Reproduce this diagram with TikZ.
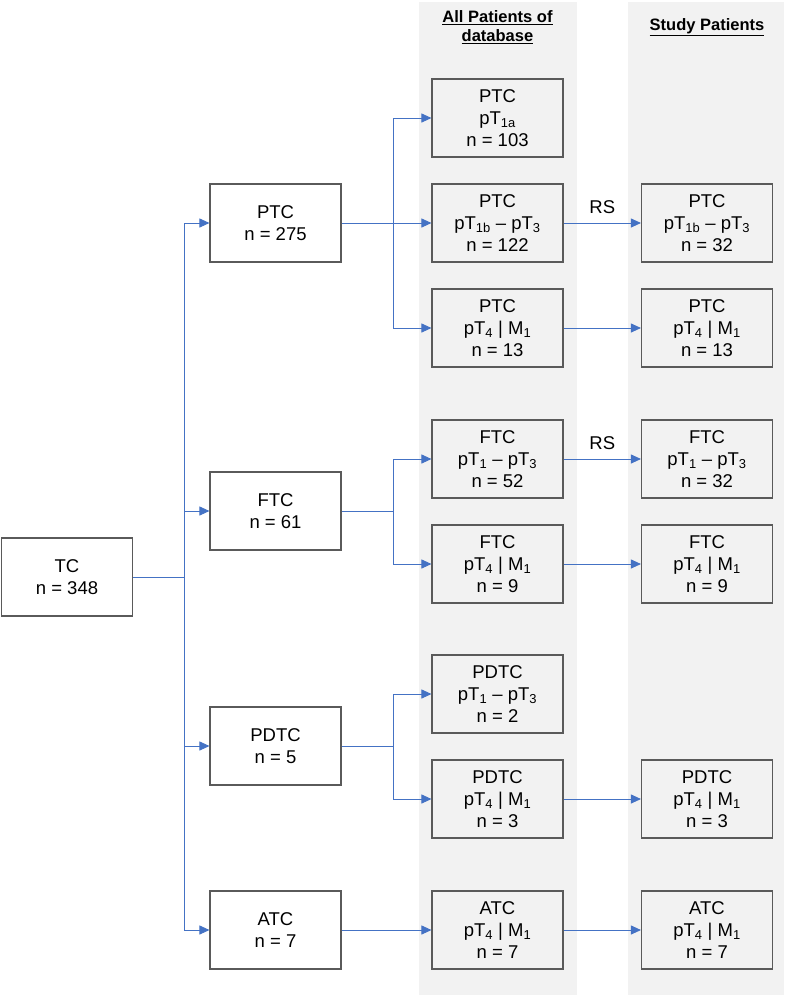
\documentclass[tikz,border=0pt]{standalone}
\usepackage{fontspec}
\setmainfont{Liberation Sans}
\usetikzlibrary{arrows.meta}
\definecolor{flowblue}{HTML}{4472C4}
\definecolor{colgray}{HTML}{F2F2F2}
\definecolor{boxline}{HTML}{5A5A5A}
\newcommand{\tsub}[1]{\textsubscript{#1}}
\tikzset{
  group/.style={draw=boxline,line width=1.1pt,minimum width=131pt,minimum height=78pt,
    align=center,inner sep=0pt,font=\fontsize{18.5}{22}\selectfont},
  tumor/.style={group,fill=white},
  link/.style={flowblue,line width=0.9pt},
  feed/.style={link,-{Triangle[length=10pt,width=9pt]}},
  select/.style={above=5.5pt,text=black,font=\fontsize{18.5}{22}\selectfont},
  head/.style={font=\fontsize{16.5}{19}\selectfont\bfseries,align=center}
}
\begin{document}
\begin{tikzpicture}[x=1pt,y=-1pt]
  \useasboundingbox (0,0) rectangle (787,997);
  \fill[colgray] (419,2) rectangle (577,995);
  \fill[colgray] (628,2) rectangle (784,995);
  \node[head] (allhd) at (497.5,27) {\underline{All Patients of}\\\underline{database}};
  \node[head] (studyhd) at (707,27) {\underline{Study Patients}};
  % histology
  \node[tumor] (tc) at (67,577) {TC\\n = 348};
  \node[tumor] (ptc) at (275.5,223) {PTC\\n = 275};
  \node[tumor] (ftc) at (275.5,511) {FTC\\n = 61};
  \node[tumor] (pdtc) at (275.5,746) {PDTC\\n = 5};
  \node[tumor] (atc) at (275.5,930) {ATC\\n = 7};
  % all patients of database
  \node[group] (ptcA) at (497.5,118) {PTC\\pT\tsub{1a}\\n = 103};
  \node[group] (ptcB) at (497.5,223) {PTC\\pT\tsub{1b} -- pT\tsub{3}\\n = 122};
  \node[group] (ptcC) at (497.5,328) {PTC\\pT\tsub{4} | M\tsub{1}\\n = 13};
  \node[group] (ftcA) at (497.5,459) {FTC\\pT\tsub{1} -- pT\tsub{3}\\n = 52};
  \node[group] (ftcB) at (497.5,564) {FTC\\pT\tsub{4} | M\tsub{1}\\n = 9};
  \node[group] (pdtcA) at (497.5,694) {PDTC\\pT\tsub{1} -- pT\tsub{3}\\n = 2};
  \node[group] (pdtcB) at (497.5,799) {PDTC\\pT\tsub{4} | M\tsub{1}\\n = 3};
  \node[group] (atcA) at (497.5,930) {ATC\\pT\tsub{4} | M\tsub{1}\\n = 7};
  % study patients
  \node[group] (ptcBs) at (707,223) {PTC\\pT\tsub{1b} -- pT\tsub{3}\\n = 32};
  \node[group] (ptcCs) at (707,328) {PTC\\pT\tsub{4} | M\tsub{1}\\n = 13};
  \node[group] (ftcAs) at (707,459) {FTC\\pT\tsub{1} -- pT\tsub{3}\\n = 32};
  \node[group] (ftcBs) at (707,564) {FTC\\pT\tsub{4} | M\tsub{1}\\n = 9};
  \node[group] (pdtcBs) at (707,799) {PDTC\\pT\tsub{4} | M\tsub{1}\\n = 3};
  \node[group] (atcAs) at (707,930) {ATC\\pT\tsub{4} | M\tsub{1}\\n = 7};
  % junctions
  \coordinate (jtc) at (184,577);
  \coordinate (jptc) at (393.5,223);
  \coordinate (jftc) at (393.5,511);
  \coordinate (jpdtc) at (393.5,746);
  \draw[link] (tc) -- (jtc);
  \foreach \kind in {ptc,ftc,pdtc,atc}
    \draw[feed] (jtc) |- (\kind);
  \draw[link] (ptc) -- (jptc);
  \foreach \kind in {ptcA,ptcB,ptcC}
    \draw[feed] (jptc) |- (\kind);
  \draw[link] (ftc) -- (jftc);
  \foreach \kind in {ftcA,ftcB}
    \draw[feed] (jftc) |- (\kind);
  \draw[link] (pdtc) -- (jpdtc);
  \foreach \kind in {pdtcA,pdtcB}
    \draw[feed] (jpdtc) |- (\kind);
  \draw[feed] (atc) -- (atcA);
  % selection
  \draw[feed] (ptcB) -- node[select] {RS} (ptcBs);
  \draw[feed] (ftcA) -- node[select] {RS} (ftcAs);
  \foreach \kind in {ptcC,ftcB,pdtcB,atcA}
    \draw[feed] (\kind) -- (\kind s);
\end{tikzpicture}
\end{document}
